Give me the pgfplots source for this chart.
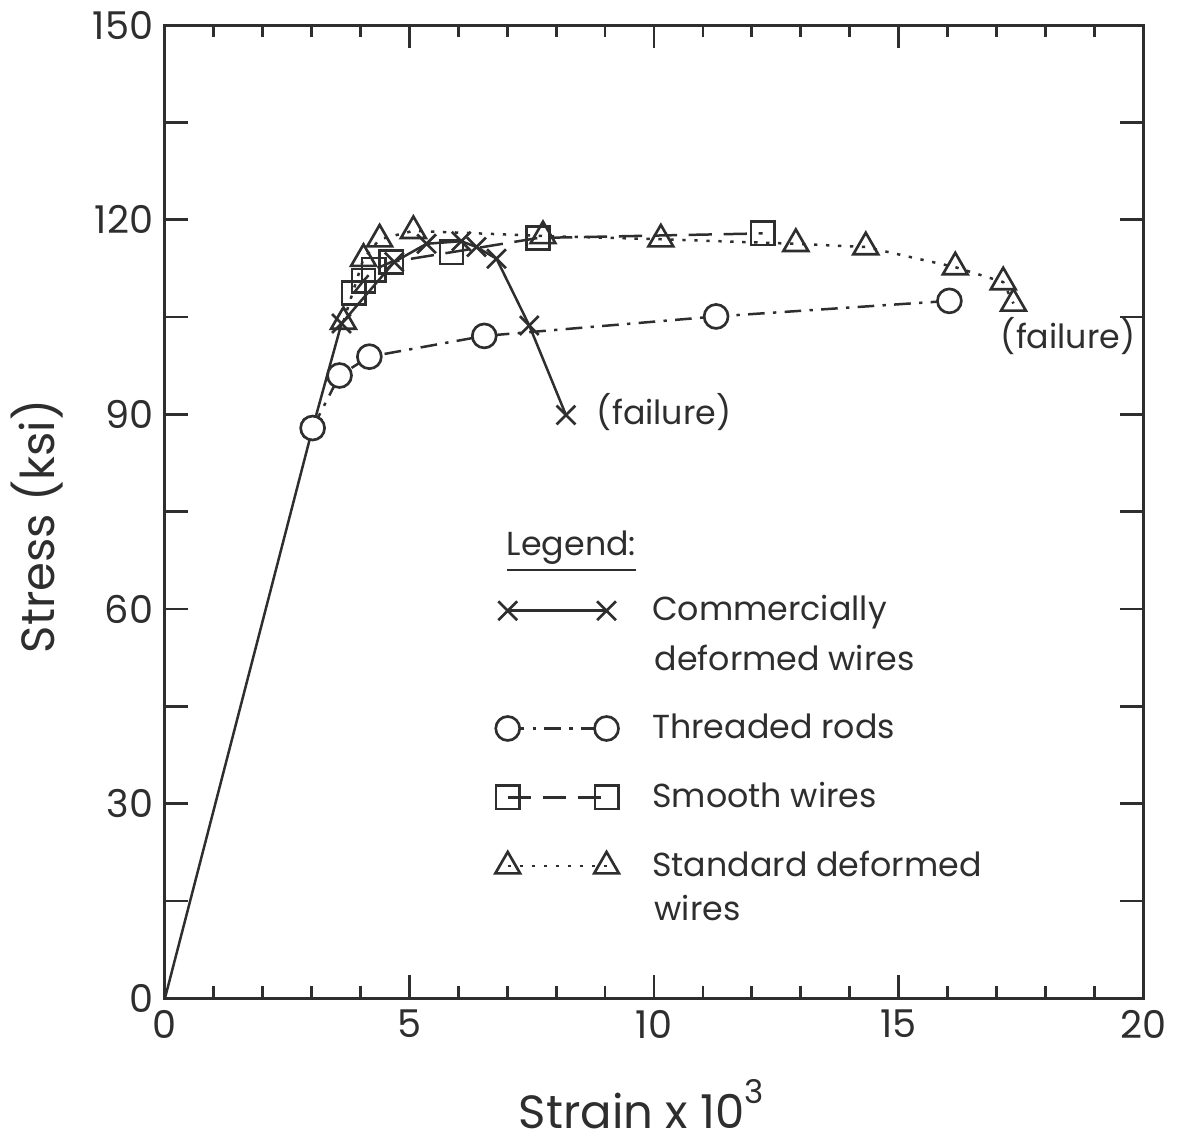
\documentclass[border=0pt]{standalone}
\usepackage{pgfplots}
\pgfplotsset{compat=1.18}
\usepackage{fontspec}
\setmainfont{Poppins}
\definecolor{ink}{gray}{0.18}
\newcommand{\ldepth}[1]{\rule[-#1]{0pt}{0pt}}
\begin{document}
\begin{tikzpicture}
\begin{axis}[
  scale only axis,
  width=294pt, height=292.5pt,
  xmin=0, xmax=20, ymin=0, ymax=150,
  axis line style={line width=0.9pt, ink},
  xtick={0,5,...,20},
  minor x tick num=4,
  ytick={0,15,...,150},
  yticklabels={0,,30,,60,,90,,120,,150},
  tick align=inside,
  tick pos=both,
  major tick length=7pt,
  minor tick length=3.6pt,
  every tick/.style={line width=0.8pt, ink},
  /pgf/number format/assume math mode=true,
  ticklabel style={font=\fontsize{11.5}{13}\selectfont, text=ink},
  xlabel={Strain x 10\raisebox{0.15em}{\textsuperscript{3}}},
  ylabel={Stress (ksi)},
  label style={font=\fontsize{14}{16}\selectfont, text=ink},
  xlabel style={at={(rel axis cs:0.488,-0.1333)}, anchor=base},
  ylabel style={at={(rel axis cs:-0.1306,0.485)}, anchor=center},
  legend style={draw=none, fill=none, at={(rel axis cs:0.3378,0.4154)}, anchor=north west,
    inner sep=0pt, outer sep=0pt, row sep=9.7pt,
    font=\fontsize{10}{13}\selectfont, text=ink,
    cells={anchor=base west},
    nodes={inner sep=0pt, text depth=, text height=8pt},
    /tikz/every odd column/.append style={column sep=10pt}},
  legend image code/.code={\draw[#1, yshift=3pt] plot coordinates {(0pt,0pt) (29.7pt,0pt)};},
]
\addplot[ink, line width=0.75pt, forget plot] coordinates {(0,0) (3.02,87.9)};

\addplot[ink, line width=0.75pt, mark=x, mark size=4pt, mark options={solid, line width=0.8pt}] coordinates {
 (3.02,87.9) (3.61,104.0) (4.69,113.5) (5.35,116.3) (6.06,116.7) (6.37,115.8) (6.78,114.0) (7.45,103.7) (8.20,89.9)};
\addlegendentry{Commercially\ldepth{17.7pt}}

\addplot[ink, line width=0.75pt, dash pattern=on 5pt off 2.5pt on 1pt off 2.5pt, mark=*, mark size=3.6pt, mark options={solid, fill=white, draw=ink, line width=0.8pt}] coordinates {
 (3.02,87.9) (3.57,96.0) (4.18,98.9) (6.53,102.1) (11.27,105.1) (16.04,107.5)};
\addlegendentry{Threaded rods\ldepth{3pt}}

\addplot[ink, line width=0.75pt, dash pattern=on 7pt off 3.5pt, mark=square, mark size=3.5pt, mark options={solid, line width=0.8pt}] coordinates {
 (3.86,108.7) (4.06,110.6) (4.27,112.3) (4.63,113.5) (5.86,115.0) (7.63,117.2) (12.22,117.9)};
\addlegendentry{Smooth wires\ldepth{3pt}}

\addplot[ink, line width=0.75pt, dash pattern=on 1pt off 2.6pt, mark=triangle, mark size=4.3pt, mark options={solid, line width=0.8pt}] coordinates {
 (3.65,104.3) (4.06,114.0) (4.39,117.0) (5.08,118.3) (7.73,117.5) (10.14,117.0) (12.90,116.3) (14.33,115.8) (16.16,112.7) (17.14,110.4) (17.35,107.1)};
\addlegendentry{Standard deformed\ldepth{3pt}}

\node[anchor=base west, inner sep=0pt, font=\fontsize{10}{13}\selectfont, text=ink] at (axis cs:6.98,68.25) {\setbox0\hbox{Legend:}\rlap{\rule[-4.8pt]{\wd0}{0.9pt}}\box0};
\node[anchor=base west, inner sep=0pt, font=\fontsize{10}{13}\selectfont, text=ink] at (axis cs:10.0,50.6) {deformed wires};
\node[anchor=base west, inner sep=0pt, font=\fontsize{10}{13}\selectfont, text=ink] at (axis cs:10.0,11.96) {wires};
\node[anchor=base west, inner sep=0pt, font=\fontsize{10}{13}\selectfont, text=ink] at (axis cs:8.82,88.5) {(failure)};
\node[anchor=base west, inner sep=0pt, font=\fontsize{10}{13}\selectfont, text=ink] at (axis cs:17.08,100.2) {(failure)};

\coordinate (sw) at (rel axis cs:0,0);
\coordinate (ne) at (rel axis cs:1,1);
\end{axis}
\path (sw) ++(-48.9pt,-41.1pt);
\path (ne) ++(10.8pt,6.9pt);
\end{tikzpicture}
\end{document}
